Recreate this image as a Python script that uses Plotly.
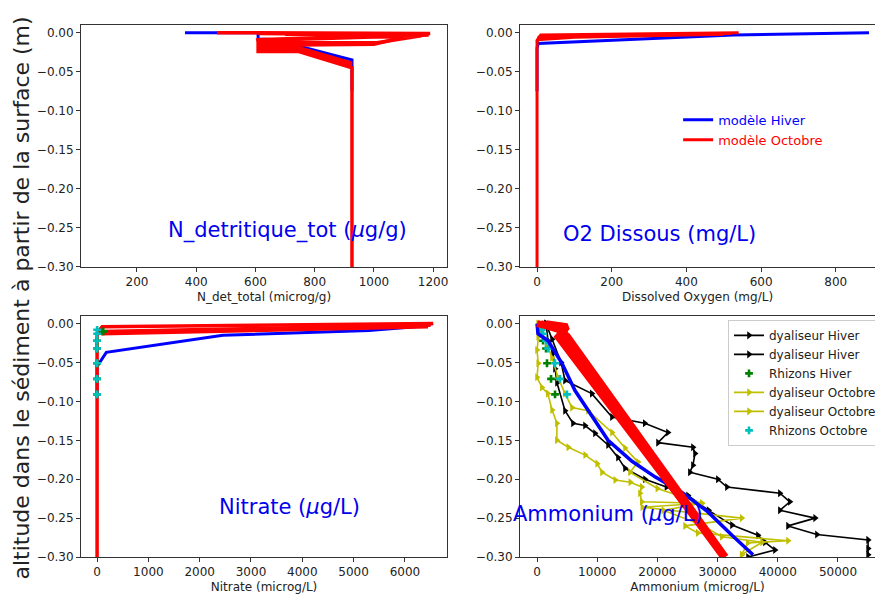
import plotly.graph_objects as go

# ---------------- data ----------------
# N detritique total (microg/g) vs depth (m)
ndet_blue_x = [362, 609, 609, 680, 744, 926, 926]
ndet_blue_d = [0.0, 0.0, -0.008, -0.009, -0.017, -0.035, -0.074]
ndet_red_x = [
    [470, 1190, 1100, 609, 609, 744, 926, 926],
    [609, 1185, 1050, 609, 620, 744, 926],
    [700, 1160, 1010, 620, 640, 744, 926],
    [800, 1100, 1000, 650, 609, 744, 926],
    [609, 744, 609, 744, 609, 744],
]
ndet_red_d = [
    [0.0, -0.001, -0.003, -0.009, -0.024, -0.024, -0.045, -0.30],
    [-0.001, -0.003, -0.005, -0.010, -0.021, -0.021, -0.042],
    [-0.002, -0.004, -0.013, -0.013, -0.018, -0.019, -0.039],
    [-0.003, -0.006, -0.015, -0.016, -0.022, -0.022, -0.041],
    [-0.011, -0.011, -0.015, -0.015, -0.019, -0.019],
]

# Dissolved oxygen (mg/L)
o2_blue_x = [889, 526, 3, 0, 0]
o2_blue_d = [0.0, -0.003, -0.014, -0.020, -0.075]
o2_red_x = [
    [540, 300, 10, 0, 0],
    [520, 200, 5, 0],
    [500, 100, 0],
]
o2_red_d = [
    [0.0, -0.001, -0.003, -0.010, -0.30],
    [-0.001, -0.003, -0.006, -0.012],
    [-0.002, -0.006, -0.009],
]

# Nitrate (microg/L)
nit_blue_x = [6550, 6200, 5300, 2450, 180, 0, 0]
nit_blue_d = [0.0, -0.004, -0.009, -0.015, -0.037, -0.055, -0.09]
nit_red_x = [
    [6550, 100, 0, 0],
    [6500, 3000, 100, 0],
    [6450, 2500, 80],
]
nit_red_d = [
    [0.0, -0.004, -0.012, -0.30],
    [-0.002, -0.006, -0.010, -0.014],
    [-0.004, -0.010, -0.013],
]
nit_rhz_hiver_x = [120, 0, 0, 0, 0, 0]
nit_rhz_hiver_d = [-0.010, -0.022, -0.032, -0.051, -0.071, -0.091]
nit_rhz_oct_x = [0, 0, 0, 0, 0, 0, 0]
nit_rhz_oct_d = [-0.008, -0.013, -0.022, -0.032, -0.051, -0.071, -0.091]

# Ammonium (microg/L)
amm_dial_hiver1_x = [1500, 2500, 4000, 4650, 9100, 12450, 17900, 21750, 20100, 25900, 26250,
                     25900, 25400, 30050, 31550, 40350, 42000, 40350, 46200, 41700, 46500,
                     55000, 55000, 55000]
amm_dial_hiver1_d = [0.0, -0.020, -0.050, -0.073, -0.090, -0.120, -0.128, -0.140, -0.153, -0.159,
                     -0.167, -0.182, -0.191, -0.200, -0.210, -0.218, -0.229, -0.240, -0.250,
                     -0.260, -0.271, -0.278, -0.289, -0.297]
amm_dial_hiver2_x = [1500, 1830, 2660, 2990, 3320, 4650, 5980, 7970, 9630, 11800, 13450, 14620,
                     17940, 21500, 25080, 28500, 32390, 36700, 37870, 39530, 35050]
amm_dial_hiver2_d = [0.0, -0.022, -0.038, -0.058, -0.076, -0.112, -0.128, -0.131, -0.141, -0.156,
                     -0.172, -0.186, -0.200, -0.210, -0.221, -0.240, -0.259, -0.272, -0.281,
                     -0.291, -0.300]
amm_rhz_hiver_x = [500, 1000, 1500, 1660, 2330, 2990]
amm_rhz_hiver_d = [-0.010, -0.022, -0.032, -0.051, -0.071, -0.091]
amm_dial_oct1_x = [500, 200, 0, 200, 0, 800, 1800, 2500, 3300, 3300, 5200, 8000, 10000, 10800,
                   13000, 15500, 17400, 17100, 17400, 27400, 17500, 34000, 24600, 26700, 41700,
                   35000, 34000]
amm_dial_oct1_d = [0.0, -0.017, -0.034, -0.051, -0.069, -0.082, -0.090, -0.111, -0.128, -0.150,
                   -0.159, -0.169, -0.180, -0.191, -0.201, -0.204, -0.210, -0.218, -0.229,
                   -0.231, -0.236, -0.250, -0.260, -0.269, -0.279, -0.282, -0.297]
amm_dial_oct2_x = [170, 830, 1660, 2490, 3490, 4650, 5810, 8470, 12460, 14620, 16780, 15450,
                   20000, 27400, 21000, 27400, 30700, 37400, 34000]
amm_dial_oct2_d = [0.0, -0.013, -0.026, -0.044, -0.069, -0.090, -0.108, -0.112, -0.140, -0.160,
                   -0.178, -0.191, -0.212, -0.231, -0.240, -0.259, -0.274, -0.281, -0.297]
amm_rhz_oct_x = [800, 1000, 1500, 1830, 2990, 3820, 4980]
amm_rhz_oct_d = [-0.008, -0.013, -0.022, -0.032, -0.051, -0.071, -0.091]
amm_blue_x = [0, 170, 1830, 4150, 6310, 9140, 11800, 15780, 19600, 24090, 28400, 32390, 35880]
amm_blue_d = [0.0, -0.013, -0.022, -0.051, -0.086, -0.120, -0.150, -0.177, -0.197, -0.217,
              -0.242, -0.272, -0.297]
amm_red_x = [
    [0, 3500, 5000, 31300],
    [600, 4500, 4200, 31000],
    [1500, 5000, 3500, 31200],
]
amm_red_d = [
    [0.0, -0.006, -0.016, -0.300],
    [0.0, -0.010, -0.018, -0.300],
    [0.0, -0.004, -0.017, -0.300],
]

x_titles = ["N_det_total (microg/g)", "Dissolved Oxygen (mg/L)",
            "Nitrate (microg/L)", "Ammonium (microg/L)"]
panel_labels = ["N_detritique_tot (<i>µ</i>g/g)", "O2 Dissous (mg/L)",
                "Nitrate (<i>µ</i>g/L)", "Ammonium (<i>µ</i>g/L)"]
y_title = "altitude dans le sédiment à partir de la surface (m)"

BLUE = "#0000ff"
RED = "#ff0000"
BLACK = "#000000"
GREEN = "#008000"
YEL = "#bfbf00"
CYAN = "#00bfbf"

fig = go.Figure()

# ---------------- data traces (ammonium panel, legend2) ----------------
def dial(x, d, color, name):
    fig.add_trace(go.Scatter(x=x, y=d, mode="lines+markers", name=name,
                             line=dict(color=color, width=1.6),
                             marker=dict(symbol="triangle-right", size=7, color=color),
                             xaxis="x4", yaxis="y4", legend="legend2"))

def rhz(x, d, color, name, xa, ya, show):
    fig.add_trace(go.Scatter(x=x, y=d, mode="markers", name=name, showlegend=show,
                             marker=dict(symbol="cross", size=6.5, color=color),
                             xaxis=xa, yaxis=ya, legend="legend2"))

dial(amm_dial_hiver1_x, amm_dial_hiver1_d, BLACK, "dyaliseur Hiver")
dial(amm_dial_hiver2_x, amm_dial_hiver2_d, BLACK, "dyaliseur Hiver")
rhz(amm_rhz_hiver_x, amm_rhz_hiver_d, GREEN, "Rhizons Hiver", "x4", "y4", True)
dial(amm_dial_oct1_x, amm_dial_oct1_d, YEL, "dyaliseur Octobre")
dial(amm_dial_oct2_x, amm_dial_oct2_d, YEL, "dyaliseur Octobre")
rhz(amm_rhz_oct_x, amm_rhz_oct_d, CYAN, "Rhizons Octobre", "x4", "y4", True)

# ---------------- model traces ----------------
def model(x, d, color, width, xa, ya, name=None, show=False):
    fig.add_trace(go.Scatter(x=x, y=d, mode="lines", name=name or "", showlegend=show,
                             line=dict(color=color, width=width),
                             xaxis=xa, yaxis=ya, legend="legend"))

# blue (Hiver)
model(ndet_blue_x, ndet_blue_d, BLUE, 3, "x", "y")
model(o2_blue_x, o2_blue_d, BLUE, 3, "x2", "y2",
      name="<span style='color:#0000ff'>modèle Hiver</span>", show=True)
model(nit_blue_x, nit_blue_d, BLUE, 3, "x3", "y3")
model(amm_blue_x, amm_blue_d, BLUE, 3.5, "x4", "y4")

# red (Octobre)
for i, (x, d) in enumerate(zip(o2_red_x, o2_red_d)):
    model(x, d, RED, 3, "x2", "y2",
          name="<span style='color:#ff0000'>modèle Octobre</span>", show=(i == 0))
for x, d in zip(ndet_red_x, ndet_red_d):
    model(x, d, RED, 3.5, "x", "y")
for x, d in zip(nit_red_x, nit_red_d):
    model(x, d, RED, 3.5, "x3", "y3")
for x, d in zip(amm_red_x, amm_red_d):
    model(x, d, RED, 7, "x4", "y4")

# rhizons markers in nitrate panel
rhz(nit_rhz_hiver_x, nit_rhz_hiver_d, GREEN, "Rhizons Hiver", "x3", "y3", False)
rhz(nit_rhz_oct_x, nit_rhz_oct_d, CYAN, "Rhizons Octobre", "x3", "y3", False)

# ---------------- layout ----------------
TICKFONT = dict(family="DejaVu Sans", size=12, color="#222222")
common = dict(showline=True, mirror=True, linecolor="#333333", linewidth=1,
              ticks="outside", ticklen=4, tickcolor="#333333", showgrid=False,
              zeroline=False, tickfont=TICKFONT)

ytop = [0.5543, 0.9583]
ybot = [0.0701, 0.4725]
xl = [0.0926, 0.5109]
xr = [0.5943, 1.0]
yrange = [-0.30, 0.0098]

def xaxis(title, dom, anchor, rng, dtick):
    return dict(common, domain=dom, anchor=anchor, range=rng, dtick=dtick, tick0=0,
                tickformat="d",
                title=dict(text=title, font=dict(family="DejaVu Sans", size=12, color="#222222"),
                           standoff=4))

def yaxis(dom, anchor):
    return dict(common, domain=dom, anchor=anchor, range=yrange, dtick=0.05, tick0=0,
                tickformat=".2f")

fig.update_layout(
    width=875, height=599,
    margin=dict(l=0, r=0, t=0, b=0, autoexpand=False),
    paper_bgcolor="white", plot_bgcolor="white",
    xaxis=xaxis(x_titles[0], xl, "y", [11, 1247], 200),
    yaxis=yaxis(ytop, "x"),
    xaxis2=xaxis(x_titles[1], xr, "y2", [-45.6, 905], 200),
    yaxis2=yaxis(ytop, "x2"),
    xaxis3=xaxis(x_titles[2], xl, "y3", [-313, 6821], 1000),
    yaxis3=yaxis(ybot, "x3"),
    xaxis4=xaxis(x_titles[3], xr, "y4", [-2824, 56150], 10000),
    yaxis4=yaxis(ybot, "x4"),
    legend=dict(x=0.775, y=0.825, xanchor="left", yanchor="top",
                bgcolor="rgba(0,0,0,0)", borderwidth=0,
                font=dict(family="DejaVu Sans", size=13), traceorder="normal",
                tracegroupgap=0),
    legend2=dict(x=0.832, y=0.466, xanchor="left", yanchor="top",
                 bgcolor="rgba(255,255,255,0.8)", bordercolor="#cccccc", borderwidth=1,
                 font=dict(family="DejaVu Sans", size=12, color="#222222"),
                 traceorder="normal", tracegroupgap=0),
    showlegend=True,
)

label_pos = [(0.328, 0.616), (0.754, 0.609), (0.331, 0.154), (0.695, 0.142)]
for txt, (px, py) in zip(panel_labels, label_pos):
    fig.add_annotation(text=txt, x=px, y=py, xref="paper", yref="paper",
                       showarrow=False, xanchor="center", yanchor="middle",
                       font=dict(family="DejaVu Sans", size=21, color="#0000ee"))

fig.add_annotation(text=y_title, x=0.025, y=0.503, xref="paper", yref="paper",
                   showarrow=False, textangle=-90, xanchor="center", yanchor="middle",
                   font=dict(family="DejaVu Sans", size=22, color="#222222"))

fig.write_html("out.html", config={"displayModeBar": False},
               post_script="document.body.style.margin='0';"
                           "document.body.style.overflow='hidden';")
